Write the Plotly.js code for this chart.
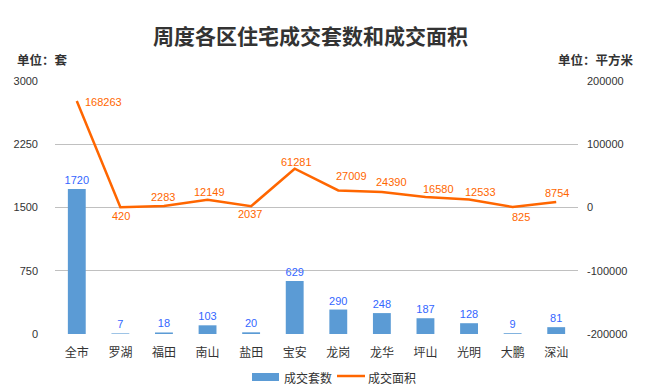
<!DOCTYPE html>
<html>
<head>
<meta charset="utf-8">
<script src="https://cdn.plot.ly/plotly-3.0.1.min.js"></script>
<style>html,body{margin:0;padding:0;background:#fff;}#chart{width:647px;height:391px;}</style>
</head>
<body>
<div id="chart"></div>
<script>
const categories = ["全市","罗湖","福田","南山","盐田","宝安","龙岗","龙华","坪山","光明","大鹏","深汕"];
const units = [1720, 7, 18, 103, 20, 629, 290, 248, 187, 128, 9, 81];
const area = [168263, 420, 2283, 12149, 2037, 61281, 27009, 24390, 16580, 12533, 825, 8754];
const leftTicks = [0, 750, 1500, 2250, 3000];
const rightTicks = [-200000, -100000, 0, 100000, 200000];
const seriesNames = ["成交套数", "成交面积"];

// label offsets for the line's data labels (pixels: [dx, dy up])
const areaLabelShift = [[27,-1],[1,-9],[-1,9],[2,8],[-1,-8],[2,7],[13,14],[10,10],[13,8],[11,8],[8,-10],[1,9]];

const font = "'Liberation Sans', 'Noto Sans CJK SC', sans-serif";
const cjk = "'Noto Sans CJK SC', sans-serif";
const barColor = "#5B9BD5", lineColor = "#FF6600";

const traces = [
  {
    type: "bar", name: seriesNames[0], x: categories, y: units,
    marker: {color: barColor}, width: 0.41,
    text: units.map(String), textposition: "outside", constraintext: "none",
    textfont: {color: "#3366FF", size: 11, family: font},
    cliponaxis: false, hoverinfo: "none"
  },
  {
    type: "scatter", mode: "lines", name: seriesNames[1], x: categories, y: area, yaxis: "y2",
    line: {color: lineColor, width: 2.5, shape: "linear"},
    cliponaxis: false, hoverinfo: "none"
  }
];

const annotations = [
  {text: "<b>单位：套</b>", xref: "paper", yref: "paper", x: -0.077, y: 1.085, xanchor: "left", yanchor: "middle",
   showarrow: false, font: {family: cjk, size: 12.5, color: "#333"}},
  {text: "<b>单位：平方米</b>", xref: "paper", yref: "paper", x: 1.11, y: 1.085, xanchor: "right", yanchor: "middle",
   showarrow: false, font: {family: cjk, size: 12.5, color: "#333"}},
  {text: seriesNames[0], xref: "paper", yref: "paper", x: (282-55)/523, y: -(377-334)/253, xanchor: "left", yanchor: "middle",
   showarrow: false, font: {family: cjk, size: 12, color: "#333"}},
  {text: seriesNames[1], xref: "paper", yref: "paper", x: (366-55)/523, y: -(377-334)/253, xanchor: "left", yanchor: "middle",
   showarrow: false, font: {family: cjk, size: 12, color: "#333"}}
];
area.forEach((v, i) => {
  annotations.push({
    text: String(v), x: categories[i], y: v, xref: "x", yref: "y2",
    xanchor: "center", yanchor: "middle", showarrow: false,
    xshift: areaLabelShift[i][0], yshift: areaLabelShift[i][1],
    font: {color: lineColor, size: 11, family: font}
  });
});

const layout = {
  width: 647, height: 391,
  margin: {l: 55, r: 69, t: 81, b: 57, autoexpand: false},
  paper_bgcolor: "#fff", plot_bgcolor: "#fff",
  title: {text: "<b>周度各区住宅成交套数和成交面积</b>", x: 0.48, xanchor: "center", y: 0.905, yanchor: "middle",
          font: {family: cjk, size: 21, color: "#333"}},
  showlegend: false,
  bargap: 0.59,
  xaxis: {type: "category", tickfont: {family: cjk, size: 12, color: "#333"}, showgrid: false,
          showline: false, ticks: "", zeroline: false, fixedrange: true, ticklabelstandoff: 10},
  yaxis: {range: [0, 3000], tickvals: leftTicks, ticktext: leftTicks.map(String),
          tickfont: {family: font, size: 11, color: "#333"}, gridcolor: "#C0C0C0", gridwidth: 1,
          zeroline: false, showline: false, ticks: "", ticklen: 0, ticklabelstandoff: 16},
  yaxis2: {range: [-200000, 200000], tickvals: rightTicks, ticktext: rightTicks.map(String),
           overlaying: "y", side: "right", showgrid: false, zeroline: false, showline: false,
           tickfont: {family: font, size: 11, color: "#333"}, ticks: "", ticklabelstandoff: 8},
  shapes: [
    {type: "rect", xref: "paper", yref: "paper", x0: (252-55)/523, x1: (279-55)/523,
     y0: -(381-334)/253, y1: -(373-334)/253, fillcolor: barColor, line: {width: 0}},
    {type: "line", xref: "paper", yref: "paper", x0: (337-55)/523, x1: (365-55)/523,
     y0: -(376-334)/253, y1: -(376-334)/253, line: {color: lineColor, width: 2.5}}
  ],
  annotations: annotations
};

Plotly.newPlot("chart", traces, layout, {displayModeBar: false, staticPlot: true});
</script>
</body>
</html>
